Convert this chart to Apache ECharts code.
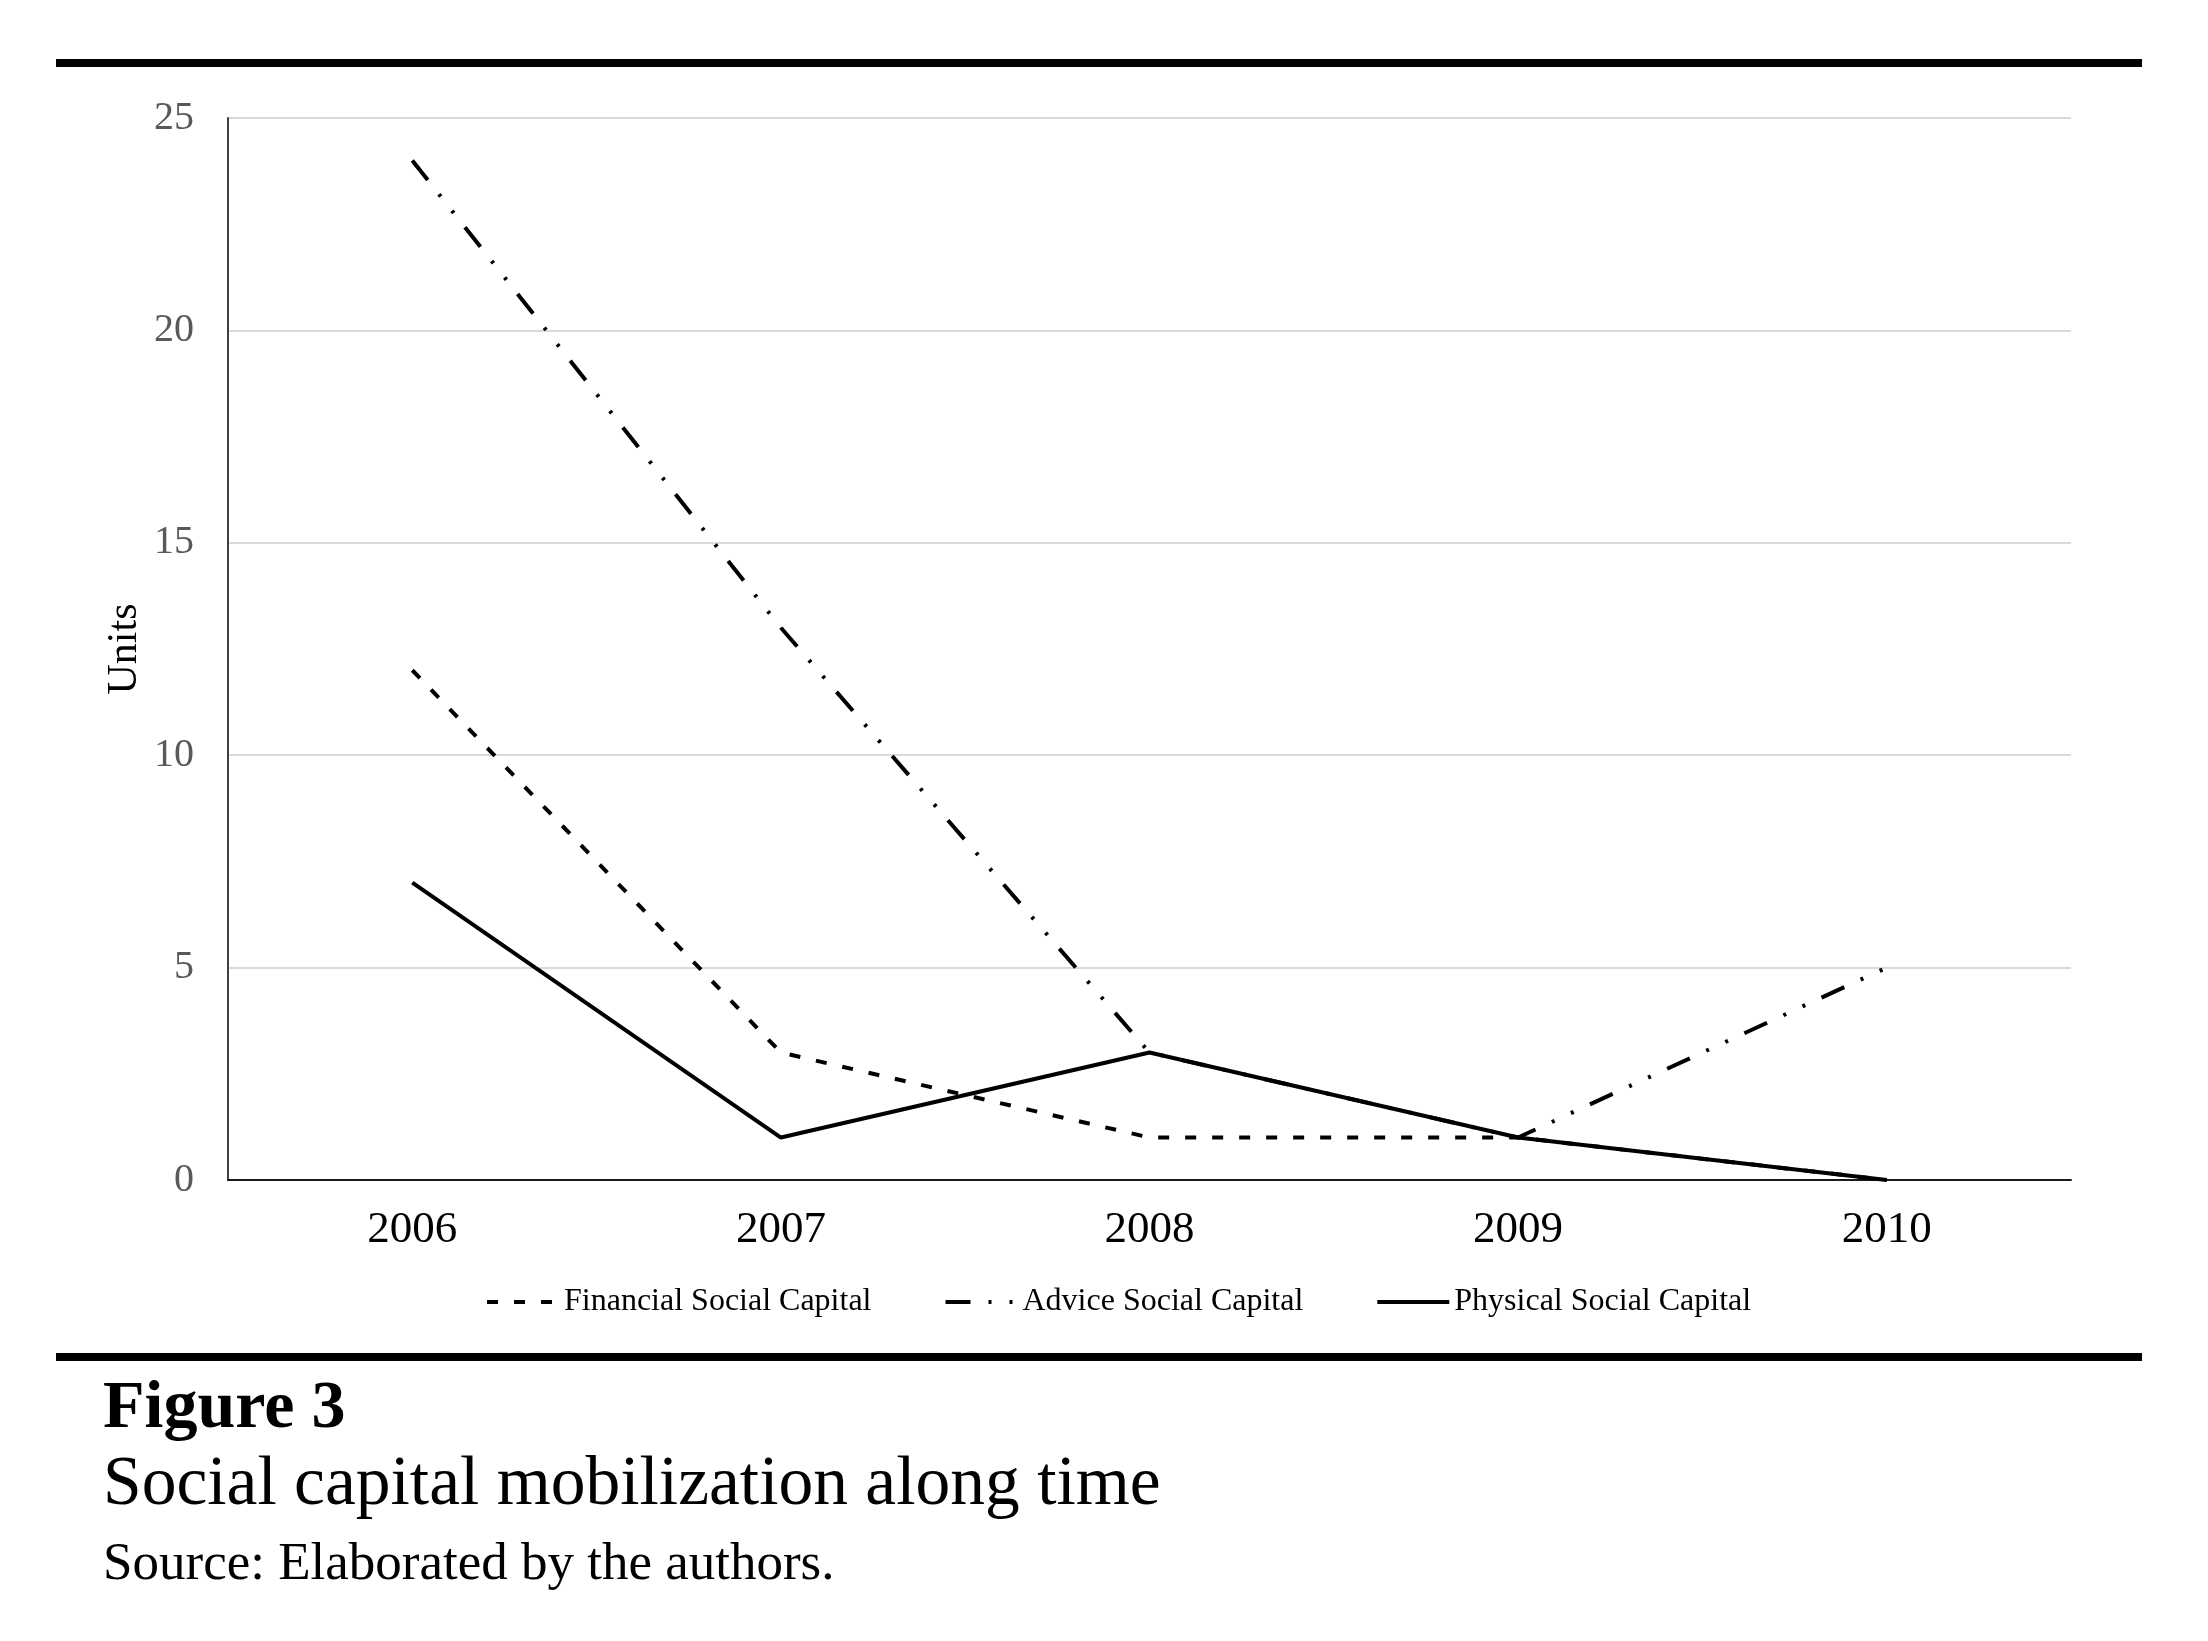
<!DOCTYPE html>
<html>
<head>
<meta charset="utf-8">
<script src="https://cdn.jsdelivr.net/npm/echarts@6/dist/echarts.min.js"></script>
<style>
html,body{margin:0;padding:0;background:#fff;}
#chart{width:2208px;height:1641px;}
</style>
</head>
<body>
<div id="chart"></div>
<script>
const categories = ['2006', '2007', '2008', '2009', '2010'];
const financial = [12, 3, 1, 1, 0];
const advice = [24, 13, 3, 1, 5];
const physical = [7, 1, 3, 1, 0];
const yTicks = { min: 0, max: 25, interval: 5 };
const seriesNames = ['Financial Social Capital', 'Advice Social Capital', 'Physical Social Capital'];
const figureLabel = 'Figure 3';
const figureTitle = 'Social capital mobilization along time';
const figureSource = 'Source: Elaborated by the authors.';

const FONT = '"Liberation Serif", "DejaVu Serif", serif';
const chart = echarts.init(document.getElementById('chart'));

chart.setOption({
  backgroundColor: '#ffffff',
  animation: false,
  grid: { left: 228, right: 137, top: 118, bottom: 461, containLabel: false },
  legend: {
    left: 480,
    top: 1281,
    itemWidth: 72,
    itemHeight: 14,
    itemGap: 72,
    data: seriesNames,
    itemStyle: { opacity: 0 },
    lineStyle: { width: 4 },
    textStyle: { fontFamily: FONT, fontSize: 32, color: '#000' }
  },
  xAxis: {
    type: 'category',
    data: categories,
    boundaryGap: true,
    axisLine: { show: true, lineStyle: { color: '#1a1a1a', width: 2 } },
    axisTick: { show: false },
    axisLabel: { margin: 28, fontFamily: FONT, fontSize: 45, color: '#000' },
    splitLine: { show: false }
  },
  yAxis: {
    type: 'value',
    min: yTicks.min,
    max: yTicks.max,
    interval: yTicks.interval,
    name: 'Units',
    nameLocation: 'middle',
    nameRotate: 90,
    nameGap: 82,
    nameMoveOverlap: false,
    nameTextStyle: { fontFamily: FONT, fontSize: 42, color: '#000' },
    axisLine: { show: true, lineStyle: { color: '#404040', width: 2 } },
    axisTick: { show: false },
    axisLabel: { margin: 34, fontFamily: FONT, fontSize: 40, color: '#595959' },
    splitLine: { show: true, lineStyle: { color: '#d9d9d9', width: 2 } }
  },
  series: [
    {
      name: seriesNames[0], type: 'line', data: financial,
      symbol: 'none', showSymbol: false,
      lineStyle: { color: '#000', width: 4, type: [11, 16], cap: 'butt' },
      itemStyle: { color: '#000' }, z: 2
    },
    {
      name: seriesNames[1], type: 'line', data: advice,
      symbol: 'none', showSymbol: false,
      lineStyle: { color: '#000', width: 4, type: [25, 18, 3, 18, 3, 18], cap: 'butt' },
      itemStyle: { color: '#000' }, z: 2
    },
    {
      name: seriesNames[2], type: 'line', data: physical,
      symbol: 'none', showSymbol: false,
      lineStyle: { color: '#000', width: 4, type: 'solid' },
      itemStyle: { color: '#000' }, z: 3
    }
  ],
  graphic: [
    { type: 'rect', shape: { x: 56, y: 59, width: 2086, height: 8 }, style: { fill: '#000' } },
    { type: 'rect', shape: { x: 56, y: 1353, width: 2086, height: 8 }, style: { fill: '#000' } },
    { type: 'text', x: 103, y: 1409, style: { text: figureLabel, font: 'bold 68px ' + FONT, fill: '#000', align: 'left', verticalAlign: 'middle' } },
    { type: 'text', x: 103, y: 1486, style: { text: figureTitle, font: '69.5px ' + FONT, fill: '#000', align: 'left', verticalAlign: 'middle' } },
    { type: 'text', x: 103, y: 1565, style: { text: figureSource, font: '53px ' + FONT, fill: '#000', align: 'left', verticalAlign: 'middle' } }
  ]
});
</script>
</body>
</html>
